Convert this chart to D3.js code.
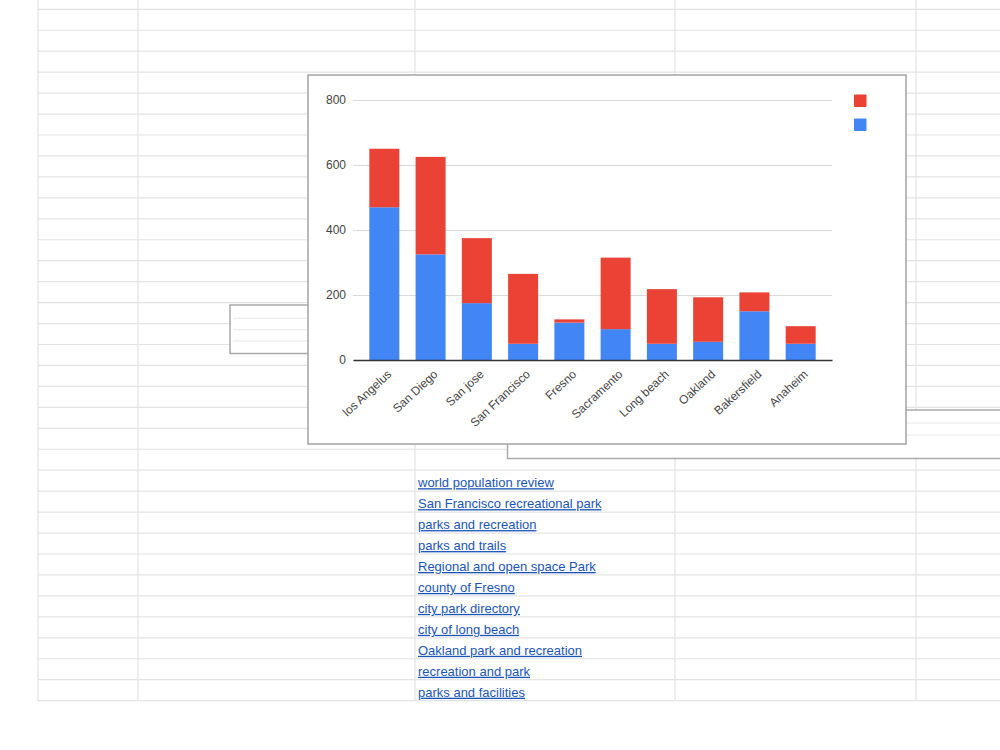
<!DOCTYPE html>
<html>
<head>
<meta charset="utf-8">
<script src="https://cdn.jsdelivr.net/npm/d3@7"></script>
<style>
  html, body { margin: 0; padding: 0; background: #fff; }
  svg { display: block; font-family: "Liberation Sans", Arial, sans-serif; }
</style>
</head>
<body>
<svg id="chart" width="1000" height="750"></svg>
<script>
// ---- data ----
const cities = ["los Angelus", "San Diego", "San jose", "San Francisco", "Fresno",
                "Sacramento", "Long beach", "Oakland", "Bakersfield", "Anaheim"];
const blueSeries = [470, 325, 175, 50, 115, 95, 50, 56, 150, 50];
const redSeries  = [180, 300, 200, 215, 10, 220, 168, 137, 58, 54];
const yTicks = [0, 200, 400, 600, 800];
const links = ["world population review", "San Francisco recreational park", "parks and recreation",
               "parks and trails", "Regional and open space Park", "county of Fresno",
               "city park directory", "city of long beach", "Oakland park and recreation",
               "recreation and park", "parks and facilities"];
const seriesColors = ["#4285F4", "#EA4335"];

const svg = d3.select("#chart");

// ---- spreadsheet background ----
const rowStep = 20.95, rowStart = 9.3, rowCount = 34;
const rowYs = d3.range(rowCount).map(i => rowStart + i * rowStep);
const gridBottom = rowYs[rowYs.length - 1];
const colXs = [38, 138, 415, 675, 916];
const bg = svg.append("g");
bg.selectAll("line.row").data(rowYs).join("line")
  .attr("x1", 38).attr("x2", 1000).attr("y1", d => d).attr("y2", d => d)
  .attr("stroke", "#e3e3e3").attr("stroke-width", 1.2);
bg.selectAll("line.col").data(colXs).join("line")
  .attr("x1", d => d).attr("x2", d => d).attr("y1", 0).attr("y2", gridBottom)
  .attr("stroke", "#e3e3e3").attr("stroke-width", 1.2);

// links in column C
bg.selectAll("text.link").data(links).join("text")
  .attr("x", 418)
  .attr("y", (d, i) => rowYs[22 + i] + 17)
  .attr("font-size", 13)
  .attr("fill", "#1a55b8")
  .attr("text-decoration", "underline")
  .text(d => d);

// floating objects behind chart
function floatBox(x, y, w, h, inner) {
  const g = svg.append("g");
  g.append("rect").attr("x", x).attr("y", y).attr("width", w).attr("height", h)
    .attr("fill", "#fff").attr("stroke", "#aaa").attr("stroke-width", 1.5);
  inner.forEach(iy => g.append("line").attr("x1", x + 3).attr("x2", x + w)
    .attr("y1", iy).attr("y2", iy).attr("stroke", "#e8e8e8").attr("stroke-width", 1));
}
floatBox(230, 305, 100, 48.5, [318.3, 329.7, 341]);
floatBox(507.5, 410, 520, 48.5, [423, 435]);

// ---- chart card ----
const card = { x: 308, y: 75, w: 598, h: 369 };
svg.append("rect").attr("x", card.x).attr("y", card.y).attr("width", card.w).attr("height", card.h)
  .attr("fill", "#fff").attr("stroke", "#a3a3a3").attr("stroke-width", 1.5);

const plot = { left: 353, right: 832, top: 100, bottom: 360 };
const x = d3.scaleBand().domain(cities).range([plot.left, plot.right])
  .paddingInner(0.3515).paddingOuter(0.353);
const y = d3.scaleLinear().domain([0, 800]).range([plot.bottom, plot.top]);

// gridlines
const yAxis = d3.axisLeft(y).tickValues(yTicks).tickSize(-(plot.right - plot.left)).tickPadding(7);
const gy = svg.append("g").attr("transform", `translate(${plot.left},0)`).call(yAxis);
gy.select(".domain").remove();
gy.selectAll(".tick line").attr("stroke", "#d9d9d9").attr("stroke-width", 1.2);
gy.selectAll(".tick text").attr("font-size", 12).attr("fill", "#444")
  .attr("font-family", "Liberation Sans, Arial, sans-serif");

// stacked bars
const rows = cities.map((c, i) => ({ city: c, blue: blueSeries[i], red: redSeries[i] }));
const stack = d3.stack().keys(["blue", "red"])(rows);
svg.append("g").selectAll("g").data(stack).join("g")
  .attr("fill", (d, i) => seriesColors[i])
  .selectAll("rect").data(d => d).join("rect")
  .attr("x", d => x(d.data.city))
  .attr("width", x.bandwidth())
  .attr("y", d => y(d[1]))
  .attr("height", d => y(d[0]) - y(d[1]));

// x axis
const xAxis = d3.axisBottom(x).tickSize(0).tickPadding(0);
const gx = svg.append("g").attr("transform", `translate(0,${plot.bottom})`).call(xAxis);
gx.select(".domain").attr("stroke", "#333").attr("stroke-width", 1.5);
gx.selectAll(".tick text")
  .attr("font-size", 12).attr("fill", "#444")
  .attr("font-family", "Liberation Sans, Arial, sans-serif")
  .attr("text-anchor", "end")
  .attr("transform", "translate(5,12) rotate(-43)")
  .attr("dy", "0.35em").attr("y", 0);

// legend (swatches only)
svg.append("g").selectAll("rect").data([seriesColors[1], seriesColors[0]]).join("rect")
  .attr("x", 854).attr("y", (d, i) => 94.5 + i * 24)
  .attr("width", 12.5).attr("height", 12.5).attr("rx", 1)
  .attr("fill", d => d);
</script>
</body>
</html>
